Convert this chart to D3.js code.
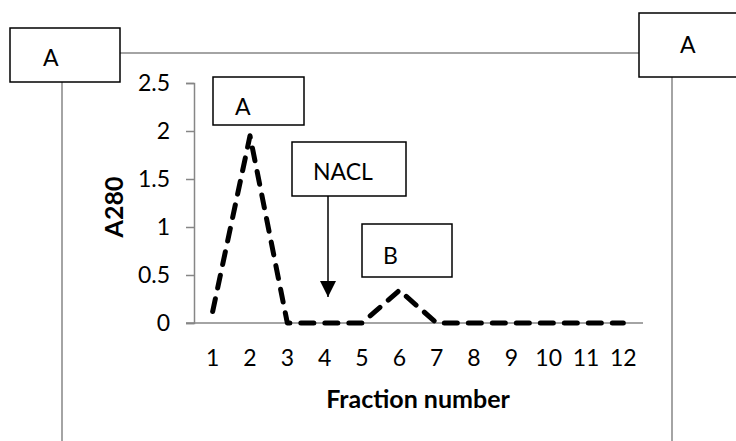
<!DOCTYPE html>
<html>
<head>
<meta charset="utf-8">
<script src="https://cdn.jsdelivr.net/npm/d3@7"></script>
<style>
  html, body { margin: 0; padding: 0; background: #fff; }
  svg { display: block; }
  text { font-family: Lato, "Open Sans", sans-serif; fill: #000; }
</style>
</head>
<body>
<svg id="chart" width="736" height="441"></svg>
<script>
// ---- data ----
const fractions = ["1","2","3","4","5","6","7","8","9","10","11","12"];
const a280 = [0.12, 1.95, 0, 0, 0, 0.34, 0, 0, 0, 0, 0, 0];
const yTicks = [0, 0.5, 1, 1.5, 2, 2.5];
const yTickLabels = ["0", "0.5", "1", "1.5", "2", "2.5"];
const xTitle = "Fraction number";
const yTitle = "A280";
const annotations = ["A", "NACL", "B"];
const frameLabels = ["A", "A"];

const svg = d3.select("#chart");
const grey = "#868686";
const FS = 23;

// ---- outer frame lines and boxes ----
svg.append("line").attr("x1", 120).attr("x2", 639).attr("y1", 53).attr("y2", 53)
  .attr("stroke", grey).attr("stroke-width", 1.5);
svg.append("line").attr("x1", 62).attr("x2", 62).attr("y1", 82).attr("y2", 441)
  .attr("stroke", grey).attr("stroke-width", 1.5);
svg.append("line").attr("x1", 672).attr("x2", 672).attr("y1", 77).attr("y2", 441)
  .attr("stroke", grey).attr("stroke-width", 1.5);

function box(x, y, w, h, label, tx, ty) {
  svg.append("rect").attr("x", x).attr("y", y).attr("width", w).attr("height", h)
    .attr("fill", "#fff").attr("stroke", "#000").attr("stroke-width", 1.5);
  svg.append("text").attr("x", tx).attr("y", ty).attr("font-size", FS).text(label);
}
box(10, 28, 110, 54, frameLabels[0], 43, 66);
box(639, 13, 110, 64, frameLabels[1], 680, 53);

// ---- scales ----
const x = d3.scaleBand().domain(fractions).range([194, 642]);
const y = d3.scaleLinear().domain([0, 2.5]).range([323, 83]);

// y axis
const yAxis = d3.axisLeft(y).tickValues(yTicks)
  .tickFormat((d, i) => yTickLabels[i]).tickSize(8).tickPadding(16);
const gy = svg.append("g").attr("transform", "translate(194,0)").call(yAxis);
gy.select(".domain").attr("stroke", grey).attr("stroke-width", 1.5);
gy.selectAll(".tick line").attr("stroke", grey).attr("stroke-width", 1.5);
gy.selectAll(".tick text").attr("font-size", FS).attr("font-family", "Lato, sans-serif").attr("fill", "#000");

// x axis
const xAxis = d3.axisBottom(x).tickSize(0).tickPadding(27);
const gx = svg.append("g").attr("transform", "translate(0,323)").call(xAxis);
gx.select(".domain").attr("d", "M186,0H643").attr("stroke", grey).attr("stroke-width", 1.5);
gx.selectAll(".tick text").attr("font-size", FS).attr("font-family", "Lato, sans-serif").attr("fill", "#000");

// axis titles
svg.append("text").attr("x", 418).attr("y", 408).attr("text-anchor", "middle")
  .attr("font-size", 25).attr("font-weight", "bold").text(xTitle);
svg.append("text").attr("transform", "translate(123,207) rotate(-90)")
  .attr("text-anchor", "middle").attr("font-size", 25).attr("font-weight", "bold").text(yTitle);

// ---- annotation boxes ----
box(213, 77, 91, 48, annotations[0], 235, 115);

// NACL box and arrow
svg.append("defs").append("marker").attr("id", "arr")
  .attr("viewBox", "0 0 10 10").attr("refX", 10).attr("refY", 5)
  .attr("markerWidth", 16).attr("markerHeight", 16).attr("markerUnits", "userSpaceOnUse")
  .attr("orient", "auto")
  .append("path").attr("d", "M0,0L10,5L0,10Z").attr("fill", "#000");
svg.append("line").attr("x1", 328).attr("x2", 328).attr("y1", 196).attr("y2", 297)
  .attr("stroke", "#000").attr("stroke-width", 1.5).attr("marker-end", "url(#arr)");
box(292, 142, 114, 54, annotations[1], 313, 180);

box(362, 224, 90, 53, annotations[2], 383, 264);

// ---- data line ----
const line = d3.line()
  .x((d, i) => x(fractions[i]) + x.bandwidth() / 2)
  .y(d => y(d));
svg.append("path").datum(a280).attr("d", line)
  .attr("fill", "none").attr("stroke", "#000").attr("stroke-width", 5)
  .attr("stroke-dasharray", "13 11").attr("stroke-linecap", "round")
  .attr("stroke-linejoin", "round");
</script>
</body>
</html>
